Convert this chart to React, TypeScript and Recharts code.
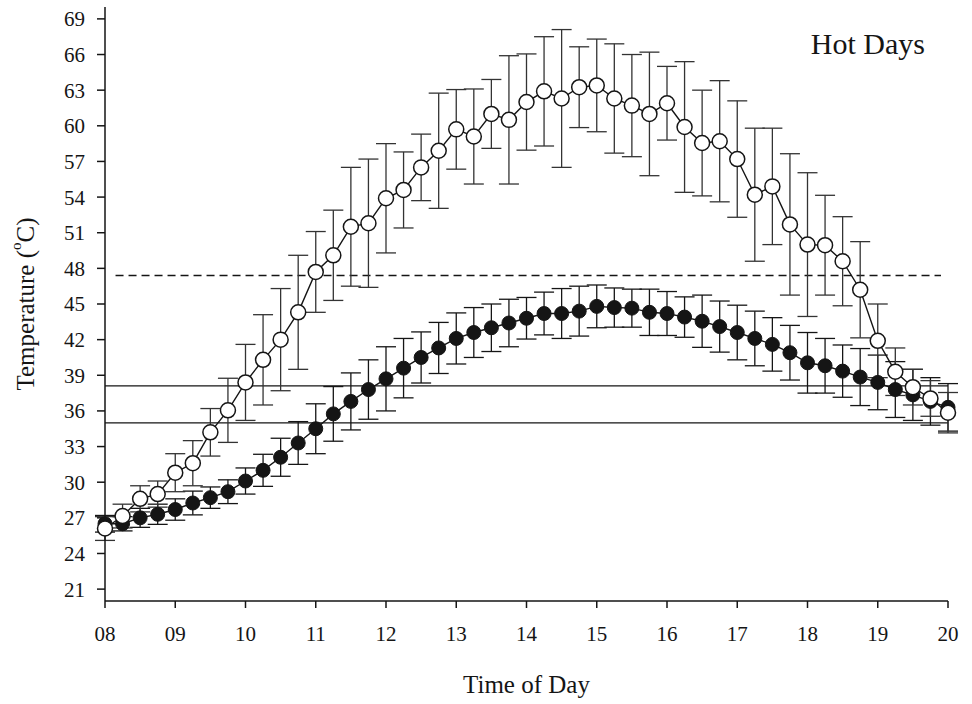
import React from "react";
import { LineChart, Line, XAxis, YAxis, ErrorBar, ReferenceLine } from "recharts";

const times = [
  8, 8.25, 8.5, 8.75, 9, 9.25, 9.5, 9.75, 10, 10.25, 10.5, 10.75,
  11, 11.25, 11.5, 11.75, 12, 12.25, 12.5, 12.75, 13, 13.25, 13.5, 13.75,
  14, 14.25, 14.5, 14.75, 15, 15.25, 15.5, 15.75, 16, 16.25, 16.5, 16.75,
  17, 17.25, 17.5, 17.75, 18, 18.25, 18.5, 18.75, 19, 19.25, 19.5, 19.75, 20,
];

const openMean = [
  26.1, 27.15, 28.6, 29.0, 30.8, 31.6, 34.2, 36.05, 38.4, 40.3, 42.0, 44.3,
  47.7, 49.1, 51.5, 51.8, 53.9, 54.6, 56.5, 57.9, 59.7, 59.1, 61.0, 60.5,
  62.0, 62.9, 62.3, 63.25, 63.4, 62.3, 61.7, 61.0, 61.9, 59.9, 58.55, 58.7,
  57.2, 54.2, 54.9, 51.7, 50.0, 49.95, 48.6, 46.2, 41.9, 39.3, 38.0, 37.05, 35.85,
];

const openErr = [
  1.0, 1.0, 1.1, 1.1, 1.6, 1.9, 2.0, 2.7, 3.2, 3.8, 4.3, 4.8,
  3.4, 3.8, 5.0, 5.4, 4.6, 3.2, 2.8, 4.85, 3.35, 4.0, 2.9, 5.4,
  4.05, 4.6, 5.8, 3.4, 3.9, 4.6, 4.3, 5.2, 3.1, 5.5, 4.45, 5.1,
  4.9, 5.6, 4.9, 5.95, 6.05, 4.2, 3.75, 4.05, 3.1, 2.0, 1.5, 1.5, 1.7,
];

const filledMean = [
  26.5, 26.5, 27.0, 27.3, 27.7, 28.25, 28.7, 29.2, 30.1, 31.0, 32.1, 33.3,
  34.5, 35.75, 36.8, 37.8, 38.7, 39.6, 40.5, 41.3, 42.1, 42.6, 43.0, 43.4,
  43.8, 44.2, 44.2, 44.4, 44.8, 44.7, 44.65, 44.3, 44.2, 43.9, 43.55, 43.1,
  42.6, 42.1, 41.6, 40.9, 40.05, 39.8, 39.35, 38.85, 38.4, 37.8, 37.35, 36.8, 36.3,
];

const filledErr = [
  0.7, 0.6, 0.8, 0.85, 0.9, 1.0, 0.9, 1.0, 1.1, 1.35, 1.6, 1.8,
  2.1, 2.3, 2.4, 2.5, 2.7, 2.5, 2.15, 2.15, 2.15, 2.1, 2.0, 2.0,
  1.75, 1.8, 2.1, 2.1, 1.8, 1.65, 1.6, 1.95, 1.85, 1.7, 2.2, 2.15,
  2.3, 2.3, 2.25, 2.3, 2.55, 2.3, 2.2, 2.4, 2.3, 2.35, 2.15, 2.0, 2.0,
];

const xTicks = [8, 9, 10, 11, 12, 13, 14, 15, 16, 17, 18, 19, 20];
const xTickLabels = ["08", "09", "10", "11", "12", "13", "14", "15", "16", "17", "18", "19", "20"];
const yTicks = [21, 24, 27, 30, 33, 36, 39, 42, 45, 48, 51, 54, 57, 60, 63, 66, 69];

const dashedThreshold = 47.4;
const dashedStart = 8.15;
const dashedEnd = 19.9;
const solidUpper = 38.1;
const solidLower = 35.0;

const data = times.map((t, i) => ({
  t,
  open: openMean[i],
  openErr: openErr[i],
  filled: filledMean[i],
  filledErr: filledErr[i],
}));

const FONT = "'Liberation Serif', 'Times New Roman', serif";
const INK = "#151515";

const YLabel = (props: any) => {
  const vb = props.viewBox || { x: 0, y: 0, width: 0, height: 0 };
  const cx = vb.x + 25;
  const cy = vb.y + vb.height / 2;
  return (
    <text
      x={cx}
      y={cy}
      transform={`rotate(-90, ${cx}, ${cy})`}
      textAnchor="middle"
      dominantBaseline="central"
      fontFamily={FONT}
      fontSize={25}
      fill={INK}
    >
      Temperature (
      <tspan fontSize={15} dy={-9}>o</tspan>
      <tspan dy={9}>C)</tspan>
    </text>
  );
};

const XLabel = (props: any) => {
  const vb = props.viewBox || { x: 0, y: 0, width: 0, height: 0 };
  return (
    <text
      x={vb.x + vb.width / 2}
      y={vb.y + 92}
      textAnchor="middle"
      fontFamily={FONT}
      fontSize={25}
      fill={INK}
    >
      Time of Day
    </text>
  );
};

export default function App() {
  const tickStyle = { fontFamily: FONT, fontSize: 21, fill: INK };
  return (
    <div style={{ position: "absolute", left: 0, top: 0, width: 972, height: 704, background: "#fff" }}>
      <LineChart width={972} height={704} data={data} margin={{ top: 7, right: 24, bottom: 0, left: 0 }}>
        <XAxis
          xAxisId="main"
          dataKey="t"
          type="number"
          domain={[8, 20]}
          ticks={xTicks}
          tickFormatter={(v: number) => xTickLabels[xTicks.indexOf(v)]}
          height={103}
          tick={tickStyle}
          tickSize={7}
          tickMargin={18}
          stroke={INK}
          strokeWidth={1.5}
          interval={0}
          label={XLabel}
        />
        <XAxis
          xAxisId="top"
          orientation="top"
          type="number"
          domain={[8, 20]}
          height={0}
          tick={false}
          tickLine={false}
          stroke={INK}
          strokeWidth={1.5}
        />
        <YAxis
          yAxisId="main"
          type="number"
          domain={[20, 70]}
          ticks={yTicks}
          width={105}
          tick={tickStyle}
          tickSize={8}
          tickMargin={12}
          stroke={INK}
          strokeWidth={1.5}
          interval={0}
          label={YLabel}
        />
        <YAxis
          yAxisId="right"
          orientation="right"
          type="number"
          domain={[20, 70]}
          width={0}
          tick={false}
          tickLine={false}
          stroke={INK}
          strokeWidth={1.5}
        />
        <ReferenceLine
          xAxisId="main"
          yAxisId="main"
          segment={[
            { x: dashedStart, y: dashedThreshold },
            { x: dashedEnd, y: dashedThreshold },
          ]}
          stroke={INK}
          strokeWidth={1.3}
          strokeDasharray="8 5"
        />
        <ReferenceLine xAxisId="main" yAxisId="main" y={solidUpper} stroke={INK} strokeWidth={1.3} />
        <ReferenceLine xAxisId="main" yAxisId="main" y={solidLower} stroke={INK} strokeWidth={1.3} />
        <Line
          xAxisId="main"
          yAxisId="main"
          dataKey="filled"
          type="linear"
          stroke={INK}
          strokeWidth={1.4}
          isAnimationActive={false}
          dot={{ r: 7, fill: INK, stroke: INK, strokeWidth: 1 }}
          activeDot={false}
        >
          <ErrorBar dataKey="filledErr" direction="y" width={10} stroke={INK} strokeWidth={1.3} />
        </Line>
        <Line
          xAxisId="main"
          yAxisId="main"
          dataKey="open"
          type="linear"
          stroke={INK}
          strokeWidth={1.4}
          isAnimationActive={false}
          dot={{ r: 7.5, fill: "#fff", stroke: INK, strokeWidth: 1.5 }}
          activeDot={false}
        >
          <ErrorBar dataKey="openErr" direction="y" width={10} stroke="#333" strokeWidth={1.3} />
        </Line>
      </LineChart>
      <div
        style={{
          position: "absolute",
          right: 47,
          top: 29,
          fontFamily: FONT,
          fontSize: 30,
          lineHeight: "1",
          color: INK,
          whiteSpace: "nowrap",
        }}
      >
        Hot Days
      </div>
    </div>
  );
}
